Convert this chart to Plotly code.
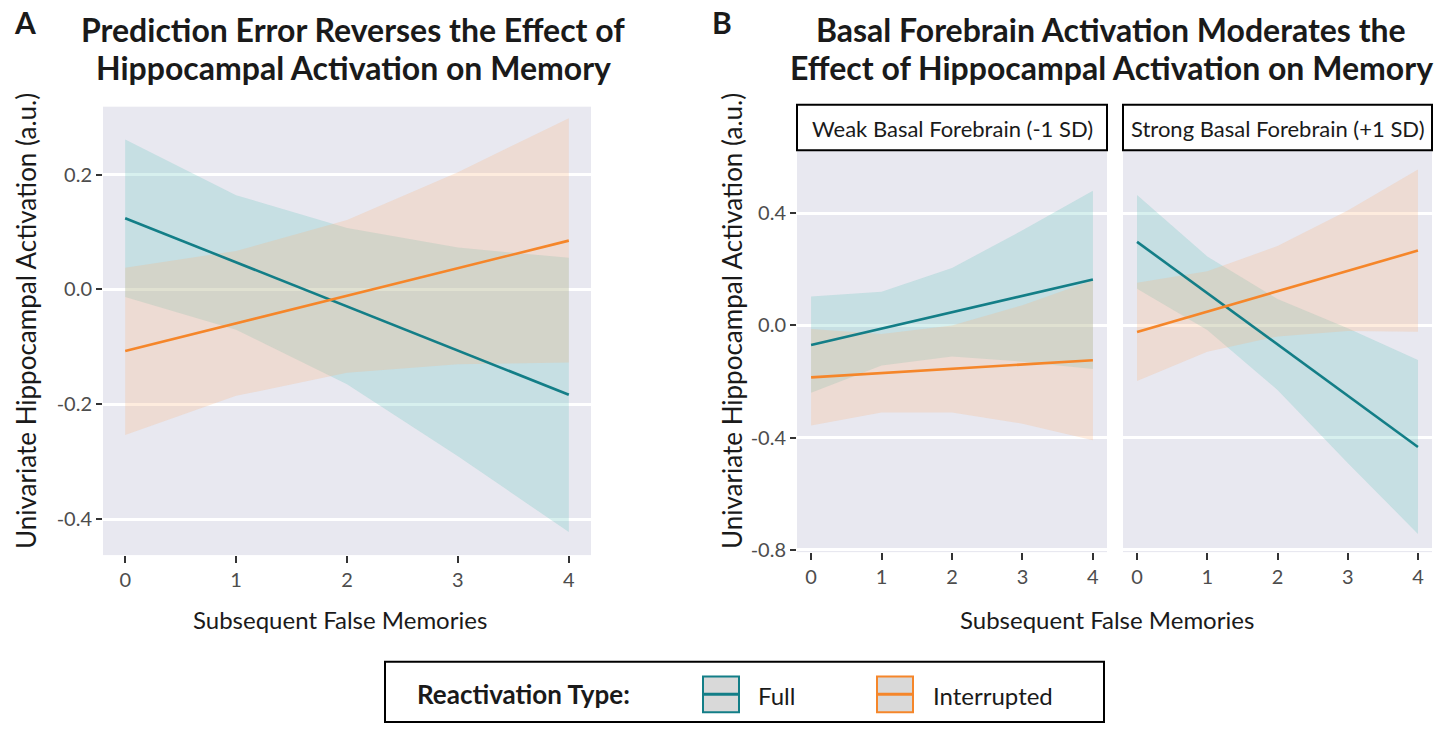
import plotly.graph_objects as go

# ---------------- data ----------------
x_vals = [0, 1, 2, 3, 4]
x_ticktext = ["0", "1", "2", "3", "4"]

# Panel A
a_full_fit = [0.124, 0.047, -0.030, -0.106, -0.183]
a_full_hi = [0.261, 0.164, 0.107, 0.073, 0.055]
a_full_lo = [-0.013, -0.070, -0.165, -0.290, -0.422]
a_int_fit = [-0.107, -0.059, -0.011, 0.037, 0.085]
a_int_hi = [0.038, 0.067, 0.121, 0.204, 0.298]
a_int_lo = [-0.253, -0.185, -0.145, -0.130, -0.127]
a_yticks = [0.2, 0.0, -0.2, -0.4]
a_yticktext = ["0.2", "0.0", "-0.2", "-0.4"]

# Panel B - weak basal forebrain
bw_full_fit = [-0.070, -0.0115, 0.047, 0.105, 0.164]
bw_full_hi = [0.103, 0.120, 0.205, 0.339, 0.480]
bw_full_lo = [-0.240, -0.143, -0.111, -0.129, -0.155]
bw_int_fit = [-0.185, -0.170, -0.155, -0.139, -0.124]
bw_int_hi = [-0.013, -0.030, 0.000, 0.072, 0.161]
bw_int_lo = [-0.357, -0.310, -0.310, -0.350, -0.409]

# Panel B - strong basal forebrain
bs_full_fit = [0.298, 0.115, -0.068, -0.250, -0.433]
bs_full_hi = [0.465, 0.246, 0.094, -0.010, -0.123]
bs_full_lo = [0.131, -0.016, -0.230, -0.490, -0.743]
bs_int_fit = [-0.023, 0.050, 0.122, 0.195, 0.267]
bs_int_hi = [0.152, 0.193, 0.283, 0.410, 0.556]
bs_int_lo = [-0.198, -0.094, -0.039, -0.020, -0.022]
b_yticks = [0.4, 0.0, -0.4, -0.8]
b_yticktext = ["0.4", "0.0", "-0.4", "-0.8"]

series_names = ["Full", "Interrupted"]
strip_labels = ["Weak Basal Forebrain (-1 SD)", "Strong Basal Forebrain (+1 SD)"]
title_a = ["Prediction Error Reverses the Effect of", "Hippocampal Activation on Memory"]
title_b = ["Basal Forebrain Activation Moderates the", "Effect of Hippocampal Activation on Memory"]
y_title = "Univariate Hippocampal Activation (a.u.)"
x_title = "Subsequent False Memories"
legend_title = "Reactivation Type:"

# ---------------- style ----------------
W, H = 1452, 732
FONT = "Lato"
TEAL = "#137E87"
ORANGE = "#F5862A"
TEAL_FILL = "rgba(96,196,188,0.25)"
ORANGE_FILL = "rgba(252,180,124,0.25)"
PANEL_BG = "#E8E8F0"
TICK_COL = "#4d4d4d"
TEXT_COL = "#1a1a1a"


def px(x):
    return x / W


def py(y):
    return 1 - y / H


fig = go.Figure()


def add_panel(xa, ya, full_fit, full_hi, full_lo, int_fit, int_hi, int_lo):
    xs_band = x_vals + x_vals[::-1]
    fig.add_trace(go.Scatter(x=xs_band, y=full_hi + full_lo[::-1], fill="toself",
                             fillcolor=TEAL_FILL, line=dict(width=0), mode="lines",
                             hoverinfo="skip", showlegend=False, xaxis=xa, yaxis=ya))
    fig.add_trace(go.Scatter(x=xs_band, y=int_hi + int_lo[::-1], fill="toself",
                             fillcolor=ORANGE_FILL, line=dict(width=0), mode="lines",
                             hoverinfo="skip", showlegend=False, xaxis=xa, yaxis=ya))
    fig.add_trace(go.Scatter(x=x_vals, y=full_fit, mode="lines", name=series_names[0],
                             line=dict(color=TEAL, width=2.6), showlegend=False,
                             xaxis=xa, yaxis=ya))
    fig.add_trace(go.Scatter(x=x_vals, y=int_fit, mode="lines", name=series_names[1],
                             line=dict(color=ORANGE, width=2.6), showlegend=False,
                             xaxis=xa, yaxis=ya))


add_panel("x", "y", a_full_fit, a_full_hi, a_full_lo, a_int_fit, a_int_hi, a_int_lo)
add_panel("x2", "y2", bw_full_fit, bw_full_hi, bw_full_lo, bw_int_fit, bw_int_hi, bw_int_lo)
add_panel("x3", "y3", bs_full_fit, bs_full_hi, bs_full_lo, bs_int_fit, bs_int_hi, bs_int_lo)

xcommon = dict(range=[-0.2, 4.2], tickvals=x_vals, ticktext=x_ticktext, ticks="outside",
               ticklen=7, tickwidth=2, tickcolor="#333333", showgrid=False, zeroline=False,
               showline=False, tickfont=dict(family=FONT, size=20, color=TICK_COL),
               fixedrange=True)
ycommon = dict(ticks="outside", ticklen=6, tickwidth=2, tickcolor="#333333", showgrid=True,
               gridcolor="white", gridwidth=2.5, zeroline=False, showline=False,
               tickfont=dict(family=FONT, size=20, color=TICK_COL), fixedrange=True)

fig.update_layout(
    width=W, height=H,
    margin=dict(l=0, r=0, t=0, b=0),
    paper_bgcolor="white",
    plot_bgcolor=PANEL_BG,
    showlegend=False,
    xaxis=dict(xcommon, domain=[px(103), px(591)], anchor="y"),
    yaxis=dict(ycommon, domain=[py(562), py(108)], range=[-0.462, 0.318],
               tickvals=a_yticks, ticktext=a_yticktext, anchor="x"),
    xaxis2=dict(xcommon, domain=[px(797), px(1107)], anchor="y2"),
    yaxis2=dict(ycommon, domain=[py(559), py(152)], range=[-0.808, 0.625],
                tickvals=b_yticks, ticktext=b_yticktext, anchor="x2"),
    xaxis3=dict(xcommon, domain=[px(1123), px(1432)], anchor="y3"),
    yaxis3=dict(ycommon, domain=[py(559), py(152)], range=[-0.808, 0.625],
                tickvals=b_yticks, ticktext=b_yticktext, anchor="x3",
                showticklabels=False, ticks=""),
)

ann = []
shapes = []


def text(t, x, y, size, bold=False, angle=0, xanchor="center", color=TEXT_COL):
    ann.append(dict(text=("<b>" + t + "</b>") if bold else t, x=px(x), y=py(y),
                    xref="paper", yref="paper", xanchor=xanchor, yanchor="middle",
                    showarrow=False, textangle=angle,
                    font=dict(family=FONT, size=size, color=color)))


# panel letters
text("A", 25, 22, 30, bold=True)
text("B", 722, 22, 30, bold=True)
# titles (two lines each)
for lines, cx in ((title_a, 353), (title_b, 1111)):
    text(lines[0], cx, 30, 32, bold=True)
    text(lines[1], cx, 68, 32, bold=True)
# y titles
for xx in (26, 732):
    text(y_title, xx, 325, 26, angle=-90)
# x titles
text(x_title, 340, 627, 24)
text(x_title, 1107, 627, 24)

# facet strips
for (x0, x1), lab in zip([(797, 1107), (1123, 1432)], strip_labels):
    shapes.append(dict(type="rect", xref="paper", yref="paper", x0=px(x0), x1=px(x1),
                       y0=py(152), y1=py(106), fillcolor="white",
                       line=dict(color="black", width=2)))
    text(lab, (x0 + x1) / 2, 130, 22)

# legend box
shapes.append(dict(type="rect", xref="paper", yref="paper", x0=px(385), x1=px(1104),
                   y0=py(731), y1=py(670), fillcolor="white",
                   line=dict(color="black", width=2)))
text(legend_title, 415, 703, 26, bold=True, xanchor="left")
for (kx, lx), name, col in zip([(703, 756), (877, 931)], series_names, [TEAL, ORANGE]):
    shapes.append(dict(type="rect", xref="paper", yref="paper", x0=px(kx), x1=px(kx + 36),
                       y0=py(721), y1=py(685), fillcolor="#D9D9D9",
                       line=dict(color=col, width=2)))
    shapes.append(dict(type="line", xref="paper", yref="paper", x0=px(kx + 1), x1=px(kx + 35),
                       y0=py(703), y1=py(703), line=dict(color=col, width=3)))
    text(name, lx, 704, 24, xanchor="left")

fig.update_layout(annotations=ann, shapes=shapes)
fig.write_html("out.html", config={"displayModeBar": False},
               post_script="document.body.style.margin='0';")
